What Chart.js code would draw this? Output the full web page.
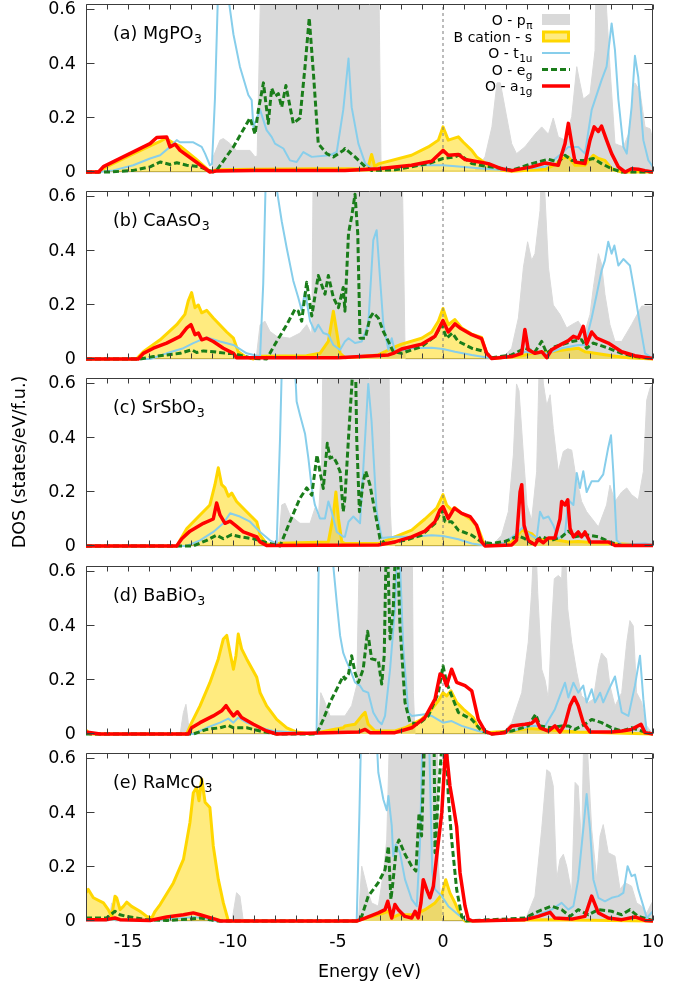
<!DOCTYPE html>
<html>
<head>
<meta charset="utf-8">
<script src="https://cdn.jsdelivr.net/npm/chart.js@4.4.0/dist/chart.umd.min.js"></script>
<style>
html,body{margin:0;padding:0;background:#fff;}
body{width:690px;height:989px;overflow:hidden;position:relative;}
canvas{position:absolute;left:0;}
</style>
</head>
<body>
<canvas id="c0" width="690" height="178" style="top:0px"></canvas>
<canvas id="c1" width="690" height="178" style="top:187px"></canvas>
<canvas id="c2" width="690" height="200" style="top:358px"></canvas>
<canvas id="c3" width="690" height="178" style="top:562px"></canvas>
<canvas id="c4" width="690" height="240" style="top:749px"></canvas>
<script>
// ---------------- DATA (energy in eV, DOS in states/eV/f.u.) ----------------
const energyLabelTicks = [-15, -10, -5, 0, 5, 10];
const energyMinorTicks = [-17,-16,-15,-14,-13,-12,-11,-10,-9,-8,-7,-6,-5,-4,-3,-2,-1,0,1,2,3,4,5,6,7,8,9,10];
const dosTicks = [0, 0.2, 0.4, 0.6];
const fermiLine = [[0,0],[0,0.622]];
const panelNames = ['(a) MgPO', '(b) CaAsO', '(c) SrSbO', '(d) BaBiO', '(e) RaMcO'];
const panelSubs = ['3','3','3','3','3'];

// (a) MgPO3
const aPpi = [[-17,0],[-11.0,0],[-10.94,0.056],[-10.62,0.118],[-10.46,0.124],[-10.14,0.105],[-9.83,0.08],[-9.19,0.08],[-8.95,0.056],[-8.85,0.06],[-8.6,1],[-3.1,1],[-2.95,0.02],[-2.5,0.005],[1.5,0.005],[1.7,0.019],[2.0,0.056],[2.33,0.167],[2.57,0.33],[2.73,0.33],[2.97,0.23],[3.27,0.105],[3.5,0.068],[3.9,0.093],[4.38,0.14],[4.7,0.167],[5.02,0.14],[5.25,0.2],[5.49,0.13],[5.81,0.118],[6.13,0.205],[6.37,0.39],[6.52,0.33],[6.68,0.27],[7.0,0.29],[7.24,0.45],[7.35,1],[7.65,1],[7.79,0.6],[7.95,0.39],[8.19,0.105],[8.35,0.1],[8.59,0.093],[8.83,0.14],[9.14,0.33],[9.38,0.3],[9.62,0.167],[9.86,0.16],[10,0.118]];
const aBs = [[-17,0],[-16.4,0],[-16.0,0.02],[-15,0.058],[-14,0.095],[-13.5,0.112],[-13.2,0.125],[-12.9,0.11],[-12.5,0.095],[-11.8,0.05],[-11.1,0.002],[-10.8,0.008],[-9,0.01],[-6,0.012],[-4.5,0.012],[-3.6,0.01],[-3.4,0.065],[-3.25,0.02],[-3.08,0.03],[-1.5,0.062],[-0.7,0.093],[-0.22,0.118],[0,0.167],[0.25,0.118],[0.73,0.13],[0.97,0.11],[1.37,0.08],[1.6,0.056],[2.16,0.025],[2.79,0.006],[3.27,0.003],[4.86,0.01],[5.4,0.03],[5.65,0.05],[5.97,0.056],[6.29,0.025],[6.76,0.025],[7.16,0.062],[7.4,0.05],[7.71,0.043],[8.03,0.012],[8.5,0],[10,0]];
const aT1u = [[-17,0],[-16.4,0],[-15.7,0.006],[-14.75,0.025],[-13.95,0.05],[-13.47,0.062],[-13.0,0.093],[-12.68,0.118],[-12.52,0.11],[-11.89,0.11],[-11.49,0.093],[-11.33,0.068],[-11.1,0.025],[-11.0,0.03],[-10.86,0.27],[-10.7,0.7],[-10.4,0.75],[-10.14,0.6],[-9.98,0.51],[-9.67,0.39],[-9.27,0.285],[-9.11,0.266],[-9.03,0.167],[-8.71,0.23],[-8.4,0.155],[-8.16,0.13],[-8.0,0.105],[-7.6,0.087],[-7.29,0.043],[-6.97,0.037],[-6.65,0.074],[-6.25,0.056],[-5.38,0.062],[-5.06,0.074],[-4.75,0.23],[-4.5,0.42],[-4.35,0.24],[-4.03,0.105],[-3.7,0.031],[-3.4,0.012],[-2.29,0.019],[-1.02,0.025],[0,0.025],[0.89,0.019],[2.0,0.012],[3.27,0.006],[4.86,0.019],[5.65,0.068],[5.97,0.093],[6.44,0.093],[6.76,0.068],[7.08,0.23],[7.55,0.34],[7.79,0.39],[8.03,0.55],[8.19,0.45],[8.35,0.27],[8.59,0.093],[8.75,0.068],[8.98,0.24],[9.14,0.43],[9.3,0.35],[9.54,0.118],[9.78,0.043],[10,0.019]];
const aEg = [[-17,0],[-15.86,0],[-14.75,0.006],[-13.95,0.019],[-13.47,0.037],[-13.0,0.028],[-12.68,0.034],[-12.2,0.025],[-11.57,0.019],[-10.94,0],[-10.78,0.006],[-9.98,0.093],[-9.19,0.2],[-8.95,0.14],[-8.79,0.23],[-8.55,0.33],[-8.32,0.18],[-8.16,0.31],[-8.0,0.28],[-7.84,0.29],[-7.68,0.24],[-7.48,0.32],[-7.13,0.18],[-6.81,0.2],[-6.57,0.39],[-6.37,0.57],[-6.17,0.365],[-5.94,0.105],[-5.54,0.068],[-5.22,0.056],[-4.75,0.08],[-4.67,0.087],[-4.19,0.056],[-3.7,0.019],[-3.4,0.006],[-2.29,0.008],[-0.7,0.031],[0,0.05],[0.57,0.056],[0.81,0.064],[1.37,0.031],[2.0,0.022],[2.95,0.012],[3.27,0.006],[4.22,0.031],[5.02,0.047],[5.49,0.037],[5.81,0.062],[6.13,0.043],[6.76,0.043],[7.16,0.05],[7.55,0.031],[8.03,0.012],[8.5,0],[10,0]];
const aA1g = [[-17,0],[-16.4,0],[-16.17,0.02],[-13.95,0.105],[-13.63,0.128],[-13.16,0.13],[-13.0,0.093],[-12.76,0.103],[-12.52,0.08],[-11.1,0],[-10.8,0.004],[-9,0.006],[-4.67,0.006],[-3.08,0.012],[-1.5,0.025],[-0.54,0.04],[0,0.08],[0.25,0.062],[0.73,0.065],[1.05,0.046],[1.52,0.04],[2.16,0.031],[2.79,0.012],[3.27,0.005],[4.22,0.019],[4.86,0.033],[5.49,0.025],[5.81,0.105],[5.97,0.18],[6.13,0.105],[6.29,0.037],[6.76,0.031],[7.0,0.118],[7.2,0.167],[7.4,0.15],[7.55,0.17],[7.79,0.118],[8.03,0.068],[8.35,0.019],[8.67,0],[8.98,0.012],[9.3,0.01],[9.62,0.005],[10,0]];

// (b) CaAsO3
const bPpi = [[-17,0],[-8.9,0],[-8.71,0.127],[-8.48,0.14],[-8.24,0.102],[-7.92,0.084],[-7.29,0.077],[-6.81,0.096],[-6.49,0.127],[-6.25,0.09],[-6.15,1],[-2.0,1],[-1.8,0],[2.79,0],[3.27,0.04],[3.59,0.152],[3.83,0.34],[4.03,0.434],[4.22,0.365],[4.38,0.39],[4.62,0.55],[4.73,0.8],[4.86,0.6],[5.02,0.34],[5.25,0.2],[5.57,0.165],[5.89,0.115],[6.13,0.127],[6.44,0.14],[6.76,0.102],[7.0,0.165],[7.16,0.265],[7.4,0.39],[7.55,0.352],[7.71,0.24],[7.95,0.127],[8.19,0.065],[8.51,0.065],[8.98,0.127],[9.46,0.196],[9.78,0.196],[10,0.196]];
const bBs = [[-17,0],[-14.6,0],[-14.27,0.027],[-13.47,0.071],[-12.68,0.127],[-12.29,0.165],[-12.13,0.215],[-11.97,0.246],[-11.81,0.19],[-11.65,0.2],[-11.49,0.171],[-11.25,0.18],[-10.94,0.152],[-10.3,0.1],[-9.98,0.077],[-9.75,0.027],[-9.43,0.009],[-9.03,0],[-8.8,0.01],[-6.5,0.012],[-5.86,0.021],[-5.46,0.065],[-5.22,0.177],[-5.06,0.1],[-4.9,0.021],[-4.67,0.005],[-3.08,0.015],[-2.76,0.027],[-2.44,0.04],[-1.97,0.055],[-1.02,0.077],[-0.54,0.1],[-0.22,0.14],[0,0.187],[0.25,0.127],[0.57,0.146],[0.89,0.115],[1.37,0.092],[1.84,0.08],[2.08,0.021],[2.32,0.002],[3.75,0.012],[4.22,0.021],[5.17,0.027],[5.81,0.034],[6.44,0.04],[6.76,0.027],[7.24,0.021],[8.03,0.012],[8.83,0.005],[10,0]];
const bT1u = [[-17,0],[-13.95,0],[-13.16,0.021],[-12.36,0.04],[-11.89,0.059],[-11.25,0.08],[-10.62,0.065],[-9.98,0.052],[-9.35,0.021],[-8.71,0.009],[-8.56,0.28],[-8.4,0.8],[-7.92,0.63],[-7.68,0.51],[-7.44,0.41],[-7.13,0.29],[-6.89,0.227],[-6.73,0.18],[-6.57,0.25],[-6.33,0.14],[-6.1,0.102],[-5.94,0.127],[-5.7,0.096],[-5.46,0.09],[-5.22,0.052],[-4.9,0.034],[-4.67,0.065],[-4.5,0.077],[-4.19,0.059],[-3.87,0.065],[-3.56,0.127],[-3.32,0.44],[-3.16,0.477],[-3.0,0.3],[-2.84,0.127],[-2.6,0.034],[-2.44,0.077],[-2.29,0.027],[-1.49,0.04],[-0.54,0.042],[0,0.037],[0.57,0.027],[1.37,0.015],[2.16,0.005],[3.27,0.012],[3.9,0.027],[4.38,0.021],[5.02,0.021],[5.65,0.04],[6.44,0.052],[6.76,0.052],[7.08,0.152],[7.32,0.24],[7.55,0.327],[7.71,0.365],[7.87,0.434],[8.03,0.39],[8.16,0.42],[8.35,0.346],[8.59,0.37],[8.9,0.346],[9.14,0.24],[9.38,0.127],[9.62,0.021],[10,0.002]];
const bEg = [[-17,0],[-14.43,0],[-13.79,0.009],[-13.16,0.015],[-12.52,0.021],[-11.97,0.034],[-11.73,0.024],[-11.41,0.03],[-10.94,0.027],[-10.3,0.021],[-9.98,0.02],[-9.03,0.002],[-8.4,0],[-7.92,0.065],[-7.44,0.127],[-7.05,0.184],[-6.89,0.177],[-6.73,0.14],[-6.49,0.284],[-6.25,0.159],[-5.94,0.309],[-5.78,0.275],[-5.62,0.24],[-5.46,0.309],[-5.22,0.227],[-4.98,0.19],[-4.75,0.265],[-4.67,0.177],[-4.5,0.465],[-4.35,0.527],[-4.19,0.61],[-4.06,0.465],[-3.95,0.077],[-3.7,0.077],[-3.48,0.152],[-3.32,0.171],[-3.08,0.152],[-2.84,0.102],[-2.6,0.065],[-2.37,0.027],[-1.97,0.021],[-1.02,0.046],[-0.38,0.084],[-0.06,0.127],[0.17,0.077],[0.44,0.096],[0.73,0.065],[1.37,0.04],[2.0,0.027],[2.32,0.005],[3.27,0.015],[3.9,0.04],[4.38,0.027],[4.7,0.065],[4.94,0.021],[5.33,0.046],[6.13,0.065],[6.6,0.071],[6.84,0.04],[7.16,0.059],[7.87,0.04],[8.51,0.021],[9.14,0.009],[10,0.002]];
const bA1g = [[-17,0],[-14.51,0],[-14.27,0.021],[-13.79,0.04],[-13.16,0.059],[-12.52,0.084],[-12.2,0.115],[-12.0,0.127],[-11.81,0.09],[-11.65,0.096],[-11.49,0.071],[-11.25,0.077],[-10.94,0.065],[-10.46,0.04],[-9.98,0.021],[-9.83,0.005],[-5,0.005],[-2.6,0.015],[-2.37,0.021],[-1.97,0.037],[-1.02,0.055],[-0.38,0.084],[0,0.142],[0.25,0.1],[0.57,0.13],[0.81,0.115],[1.37,0.09],[1.84,0.075],[2.08,0.021],[2.32,0.002],[3.27,0.009],[3.75,0.021],[3.9,0.109],[4.06,0.034],[4.38,0.021],[4.7,0.027],[4.94,0.005],[5.17,0.034],[5.65,0.055],[5.97,0.068],[6.21,0.084],[6.44,0.077],[6.68,0.121],[6.84,0.055],[7.08,0.1],[7.32,0.077],[7.87,0.059],[8.51,0.027],[9.14,0.012],[10,0.002]];

// (c) SrSbO3
const cPpi = [[-17,0],[-7.84,0],[-7.68,0.152],[-7.52,0.158],[-7.29,0.115],[-6.81,0.084],[-6.33,0.084],[-6.1,0.14],[-5.94,0.102],[-5.78,0.3],[-5.67,1],[-2.6,1],[-2.52,0.152],[-2.44,0.021],[-2.29,0],[2.32,0],[2.79,0.04],[3.11,0.127],[3.35,0.337],[3.5,0.6],[3.62,0.575],[3.83,0.337],[4.0,0.152],[4.22,0.096],[4.46,0.275],[4.62,0.8],[4.78,0.6],[4.94,0.52],[5.1,0.56],[5.25,0.435],[5.49,0.275],[5.73,0.35],[5.94,0.36],[6.13,0.355],[6.29,0.275],[6.6,0.165],[6.84,0.127],[7.4,0.071],[7.79,0.152],[7.95,0.225],[8.19,0.165],[8.51,0.2],[8.75,0.215],[8.98,0.19],[9.3,0.171],[9.54,0.275],[9.7,0.54],[9.86,0.585],[10,0.6]];
const cBs = [[-17,0],[-12.68,0],[-12.2,0.065],[-11.57,0.115],[-11.1,0.152],[-10.86,0.227],[-10.7,0.29],[-10.54,0.227],[-10.38,0.215],[-10.22,0.184],[-10.06,0.196],[-9.83,0.165],[-9.35,0.127],[-8.87,0.09],[-8.71,0.04],[-8.4,0.009],[-8.08,0.002],[-7.8,0.01],[-5.46,0.015],[-5.22,0.115],[-5.1,0.2],[-4.98,0.102],[-4.82,0.015],[-4.67,0.009],[-3.08,0.009],[-2.29,0.034],[-1.49,0.059],[-0.86,0.1],[-0.3,0.14],[0,0.19],[0.17,0.152],[0.41,0.133],[0.57,0.142],[0.89,0.121],[1.37,0.096],[1.68,0.065],[1.92,0.015],[2.16,0.002],[3.27,0.015],[3.75,0.059],[4.22,0.046],[4.54,0.021],[5.02,0.027],[5.49,0.021],[5.97,0.015],[6.44,0.017],[7.24,0.012],[8.03,0.009],[10,0.002]];
const cT1u = [[-17,0],[-12.2,0],[-11.57,0.021],[-10.94,0.052],[-10.46,0.084],[-10.14,0.121],[-9.67,0.109],[-9.19,0.09],[-8.71,0.052],[-8.24,0.021],[-7.92,0.009],[-7.76,0.4],[-7.63,0.8],[-7.13,0.8],[-6.97,0.535],[-6.81,0.485],[-6.57,0.416],[-6.41,0.324],[-6.25,0.215],[-6.1,0.152],[-5.86,0.102],[-5.62,0.102],[-5.46,0.165],[-5.3,0.127],[-5.06,0.052],[-4.75,0.034],[-4.67,0.034],[-4.5,0.09],[-4.27,0.109],[-3.95,0.084],[-3.71,0.4],[-3.56,0.6],[-3.4,0.46],[-3.16,0.127],[-2.92,0.03],[-2.29,0.034],[-1.49,0.034],[-0.54,0.04],[0,0.037],[0.73,0.025],[1.37,0.009],[2.0,0.002],[2.95,0.012],[3.59,0.052],[3.83,0.071],[4.06,0.046],[4.46,0.027],[4.62,0.127],[4.78,0.102],[5.02,0.109],[5.25,0.077],[5.49,0.027],[5.81,0.046],[5.97,0.17],[6.21,0.152],[6.37,0.27],[6.52,0.215],[6.68,0.277],[6.84,0.2],[7.08,0.24],[7.4,0.24],[7.63,0.265],[7.87,0.365],[8.0,0.41],[8.11,0.275],[8.27,0.021],[8.51,0.005],[9.62,0.009],[10,0.005]];
const cEg = [[-17,0],[-11.89,0],[-11.25,0.021],[-10.78,0.04],[-10.46,0.027],[-10.06,0.042],[-9.67,0.034],[-9.03,0.027],[-8.4,0.012],[-7.76,0],[-7.29,0.09],[-6.81,0.177],[-6.49,0.215],[-6.25,0.188],[-6.0,0.337],[-5.86,0.275],[-5.7,0.213],[-5.51,0.38],[-5.38,0.325],[-5.22,0.33],[-5.06,0.307],[-4.9,0.275],[-4.75,0.127],[-4.67,0.177],[-4.5,0.4],[-4.35,0.585],[-4.19,0.8],[-4.11,0.4],[-3.98,0.127],[-3.8,0.238],[-3.68,0.277],[-3.48,0.227],[-3.24,0.127],[-3.0,0.027],[-2.76,0.009],[-1.81,0.021],[-1.02,0.04],[-0.38,0.084],[-0.06,0.134],[0.1,0.09],[0.41,0.09],[0.73,0.059],[1.37,0.04],[1.84,0.015],[2.32,0.009],[2.95,0.017],[3.59,0.037],[3.9,0.027],[4.22,0.009],[4.7,0.034],[5.17,0.021],[5.65,0.034],[5.97,0.055],[6.29,0.034],[6.76,0.042],[7.4,0.034],[8.03,0.012],[8.51,0.002],[10,0.002]];
const cA1g = [[-17,0],[-12.68,0],[-12.44,0.027],[-12.05,0.055],[-11.41,0.084],[-10.94,0.1],[-10.78,0.159],[-10.62,0.115],[-10.38,0.084],[-10.14,0.092],[-9.9,0.077],[-9.51,0.052],[-8.87,0.034],[-8.71,0.015],[-8.4,0.002],[-3.08,0.004],[-2.29,0.015],[-1.49,0.034],[-0.86,0.055],[-0.38,0.09],[-0.14,0.134],[0,0.146],[0.25,0.102],[0.54,0.14],[0.89,0.121],[1.29,0.109],[1.6,0.077],[1.84,0.015],[2.0,0],[3.27,0.004],[3.5,0.021],[3.67,0.2],[3.75,0.227],[3.86,0.077],[4.06,0.021],[4.38,0.004],[4.54,0.025],[4.78,0.012],[5.02,0.03],[5.33,0.03],[5.57,0.1],[5.65,0.165],[5.81,0.152],[5.94,0.171],[6.05,0.065],[6.21,0.034],[6.44,0.052],[6.6,0.034],[6.76,0.052],[7.0,0.015],[7.87,0.015],[8.19,0.002],[10,0.002]];

// (d) BaBiO3
const dPpi = [[-17,0],[-12.52,0],[-12.36,0.08],[-12.24,0.11],[-12.13,0.042],[-12.05,0],[-5.94,0],[-5.82,0.153],[-5.62,0.117],[-5.38,0.067],[-4.67,0.067],[-4.35,0.105],[-4.11,0.179],[-3.9,1],[-1.49,1],[-1.41,0.153],[-1.33,0],[2.79,0],[3.27,0.042],[3.75,0.153],[4.06,0.34],[4.22,0.525],[4.38,0.8],[4.51,0.525],[4.7,0.24],[4.86,0.2],[5.02,0.129],[5.17,0.4],[5.3,0.575],[5.49,0.587],[5.65,0.575],[5.78,0.8],[5.94,0.463],[6.13,0.34],[6.37,0.228],[6.6,0.142],[6.92,0.117],[7.16,0.129],[7.4,0.253],[7.55,0.3],[7.79,0.278],[7.95,0.179],[8.19,0.104],[8.51,0.153],[8.75,0.34],[8.9,0.42],[9.06,0.4],[9.22,0.153],[9.46,0.117],[9.7,0.03],[10,0]];
const dBs = [[-17,0.015],[-16.81,0],[-12.21,0],[-11.97,0.042],[-11.57,0.104],[-11.1,0.19],[-10.7,0.278],[-10.46,0.352],[-10.3,0.365],[-10.11,0.29],[-9.98,0.24],[-9.86,0.29],[-9.75,0.37],[-9.59,0.315],[-9.35,0.278],[-8.87,0.21],[-8.71,0.153],[-8.4,0.104],[-7.92,0.054],[-7.44,0.023],[-6.97,0.007],[-6.33,0],[-5.86,0.007],[-5.22,0.017],[-4.75,0.023],[-4.67,0.03],[-4.19,0.036],[-3.87,0.067],[-3.71,0.08],[-3.56,0.036],[-3.24,0.011],[-2.29,0.011],[-1.81,0.023],[-1.02,0.054],[-0.54,0.092],[-0.22,0.123],[0,0.153],[0.17,0.141],[0.38,0.16],[0.65,0.117],[0.97,0.092],[1.44,0.061],[1.68,0.023],[2.0,0.005],[3.27,0.011],[4.06,0.02],[4.86,0.017],[5.65,0.011],[6.44,0.007],[10,0]];
const dT1u = [[-17,0],[-11.89,0],[-11.25,0.023],[-10.62,0.042],[-10.22,0.057],[-9.98,0.042],[-9.75,0.061],[-9.35,0.042],[-8.71,0.023],[-8.08,0.011],[-6.02,0],[-5.89,0.8],[-5.22,0.62],[-5.06,0.487],[-4.9,0.364],[-4.75,0.3],[-4.6,0.27],[-4.43,0.24],[-4.19,0.191],[-3.95,0.179],[-3.8,0.16],[-3.56,0.153],[-3.32,0.08],[-3.08,0.048],[-2.92,0.036],[-2.76,0.067],[-2.52,0.24],[-2.29,0.463],[-2.13,0.8],[-1.89,0.315],[-1.65,0.08],[-1.49,0.067],[-0.86,0.073],[-0.54,0.067],[0,0.042],[0.41,0.048],[0.89,0.03],[1.68,0.011],[2.32,0],[3.27,0.011],[4.22,0.03],[4.86,0.03],[5.33,0.092],[5.57,0.142],[5.81,0.19],[5.97,0.135],[6.21,0.19],[6.44,0.153],[6.68,0.179],[6.84,0.117],[7.08,0.166],[7.24,0.117],[7.48,0.153],[7.63,0.117],[7.87,0.16],[8.19,0.213],[8.51,0.08],[8.83,0.067],[9.14,0.179],[9.38,0.29],[9.54,0.129],[9.7,0.005],[10,0]];
const dEg = [[-17,0],[-11.89,0],[-11.25,0.017],[-10.62,0.023],[-10.22,0.032],[-9.98,0.023],[-9.35,0.023],[-8.71,0.011],[-7.92,0],[-6.02,0],[-5.7,0.054],[-5.38,0.117],[-5.06,0.166],[-4.75,0.215],[-4.67,0.203],[-4.5,0.222],[-4.35,0.29],[-4.19,0.228],[-4.03,0.191],[-3.8,0.24],[-3.59,0.38],[-3.4,0.278],[-3.08,0.272],[-2.92,0.185],[-2.8,0.29],[-2.68,0.8],[-2.52,0.352],[-2.37,0.463],[-2.21,0.8],[-2.05,0.401],[-1.81,0.117],[-1.57,0.042],[-1.18,0.036],[-0.7,0.067],[-0.22,0.153],[0,0.253],[0.17,0.191],[0.41,0.142],[0.73,0.08],[1.37,0.054],[1.84,0.011],[2.32,0],[3.27,0.011],[4.06,0.03],[4.41,0.073],[4.62,0.03],[5.17,0.023],[5.65,0.03],[5.97,0.03],[6.29,0.017],[6.76,0.036],[7.08,0.054],[7.55,0.042],[8.03,0.023],[8.51,0.011],[8.98,0.023],[9.46,0.011],[10,0]];
const dA1g = [[-17,0.007],[-16.33,0],[-12.13,0],[-11.97,0.023],[-11.57,0.042],[-10.94,0.067],[-10.54,0.086],[-10.33,0.105],[-10.17,0.086],[-9.98,0.067],[-9.79,0.082],[-9.59,0.061],[-9.03,0.036],[-8.4,0.011],[-7.92,0],[-4.03,0.007],[-3.71,0.017],[-3.48,0.005],[-2.29,0.005],[-1.49,0.023],[-0.86,0.061],[-0.38,0.129],[-0.14,0.222],[0,0.216],[0.17,0.179],[0.41,0.24],[0.65,0.191],[1.05,0.179],[1.37,0.16],[1.68,0.054],[2.0,0.011],[2.32,0],[2.95,0.005],[3.27,0.03],[3.9,0.036],[4.22,0.04],[4.43,0.055],[4.62,0.023],[5.02,0.011],[5.33,0.03],[5.57,0.007],[5.81,0.036],[6.05,0.105],[6.25,0.136],[6.44,0.105],[6.68,0.042],[7.0,0.007],[8.03,0.007],[8.51,0.011],[8.98,0.017],[9.43,0.036],[9.62,0.005],[10,0]];

// (e) RaMcO3
const ePpi = [[-17,0],[-15.9,0],[-15.78,0.067],[-15.62,0],[-10.05,0],[-9.83,0.105],[-9.67,0.092],[-9.51,0],[-4.03,0],[-3.87,0.203],[-3.71,0.153],[-3.56,0.105],[-3.4,0.067],[-3.08,0.055],[-2.84,0.179],[-2.68,0.3],[-2.44,1],[-0.3,1],[-0.22,0.215],[-0.05,0],[3.9,0],[4.38,0.092],[4.7,0.34],[4.94,0.56],[5.1,0.55],[5.25,0.5],[5.41,0.154],[5.57,0.228],[5.73,0.247],[5.89,0.203],[6.13,0.104],[6.29,0.513],[6.44,0.5],[6.6,0.277],[6.73,0.8],[6.89,0.62],[7.08,0.34],[7.32,0.154],[7.48,0.315],[7.63,0.357],[7.87,0.253],[8.19,0.24],[8.43,0.117],[8.67,0.142],[8.98,0.129],[9.22,0.067],[9.46,0.055],[9.7,0.03],[9.94,0.067],[10,0.073]];
const eBs = [[-17,0.105],[-16.89,0.117],[-16.65,0.086],[-16.17,0.067],[-15.94,0.042],[-15.78,0.017],[-15.62,0.092],[-15.54,0.086],[-15.38,0.042],[-15.22,0.054],[-15.06,0.07],[-14.83,0.054],[-14.43,0.036],[-14.11,0.017],[-13.87,0.011],[-13.71,0.036],[-13.47,0.061],[-12.84,0.141],[-12.36,0.228],[-12.05,0.365],[-11.89,0.475],[-11.73,0.495],[-11.62,0.445],[-11.49,0.526],[-11.33,0.44],[-11.1,0.42],[-10.94,0.278],[-10.7,0.154],[-10.46,0.067],[-10.22,0],[-4.11,0],[-3.71,0.011],[-3.08,0.023],[-2.6,0.036],[-2.44,0.011],[-2.13,0.023],[-1.33,0.023],[-0.86,0.042],[-0.38,0.067],[-0.06,0.098],[0.13,0.153],[0.33,0.104],[0.57,0.067],[0.81,0.023],[1.05,0],[4.86,0.005],[10,0]];
const eT1u = [[-17,0.005],[-13.16,0.005],[-11.89,0.015],[-11.1,0.007],[-10.8,0],[-4.11,0],[-3.98,0.4],[-3.87,0.8],[-3.24,0.8],[-3.08,0.55],[-2.84,0.45],[-2.68,0.41],[-2.6,0.463],[-2.44,0.352],[-2.37,0.24],[-2.25,0.283],[-2.05,0.253],[-1.81,0.154],[-1.49,0.08],[-1.25,0.055],[-1.1,0.278],[-0.94,0.8],[-0.7,0.8],[-0.51,0.179],[-0.38,0.117],[-0.06,0.092],[0.25,0.055],[0.73,0.023],[1.05,0.005],[1.68,0],[3.9,0.005],[4.54,0.023],[5.17,0.042],[5.65,0.067],[5.97,0.042],[6.21,0.055],[6.44,0.153],[6.68,0.34],[6.84,0.47],[7.0,0.34],[7.16,0.154],[7.4,0.086],[7.71,0.073],[8.03,0.086],[8.35,0.092],[8.59,0.104],[8.79,0.203],[8.98,0.166],[9.14,0.172],[9.3,0.117],[9.54,0.055],[9.7,0.011],[10,0.036]];
const eEg = [[-17,0.011],[-16.02,0.011],[-15.62,0.036],[-15.38,0.023],[-15.06,0.017],[-14.11,0.005],[-13.16,0.002],[-12.05,0.007],[-11.57,0.011],[-11.1,0.005],[-10.8,0],[-4.11,0],[-3.87,0.017],[-3.56,0.092],[-3.08,0.142],[-2.76,0.19],[-2.6,0.277],[-2.48,0.08],[-2.37,0.154],[-2.21,0.277],[-2.1,0.3],[-1.81,0.247],[-1.49,0.203],[-1.29,0.185],[-1.14,0.4],[-1.02,0.315],[-0.83,0.8],[-0.44,0.8],[-0.38,0.253],[-0.2,0.5],[0.1,0.8],[0.25,0.463],[0.41,0.303],[0.65,0.117],[0.89,0.017],[1.1,0],[3.9,0.011],[4.54,0.036],[5.17,0.055],[5.65,0.042],[6.05,0.017],[6.44,0.042],[6.92,0.023],[7.4,0.042],[8.03,0.036],[8.51,0.023],[8.9,0.042],[9.3,0.017],[10,0.002]];
const eA1g = [[-17,0.005],[-16.02,0.005],[-15.62,0.011],[-15.38,0.005],[-13.95,0.002],[-13.16,0.015],[-12.36,0.023],[-11.89,0.03],[-11.57,0.023],[-10.78,0.005],[-10.6,0],[-4.11,0],[-3.71,0.011],[-3.08,0.03],[-2.76,0.042],[-2.63,0.073],[-2.44,0.011],[-2.29,0.061],[-2.13,0.042],[-1.81,0.017],[-1.49,0.011],[-1.33,0.036],[-1.18,0.011],[-1.05,0.067],[-0.94,0.153],[-0.78,0.117],[-0.62,0.086],[-0.46,0.129],[-0.3,0.24],[-0.06,0.4],[0.1,0.61],[0.17,0.62],[0.33,0.5],[0.49,0.427],[0.65,0.35],[0.81,0.179],[1.05,0.055],[1.2,0.007],[1.4,0],[3.9,0.005],[4.54,0.017],[5.1,0.032],[5.33,0.011],[6.13,0.007],[6.76,0.017],[7.08,0.092],[7.4,0.03],[7.87,0.011],[8.51,0.005],[9.14,0.015],[9.62,0.002],[10,0]];

// ---------------- STYLE / RENDERING ----------------
const FONT = '"DejaVu Sans", "Liberation Sans", sans-serif';
Chart.defaults.font.family = FONT;
Chart.defaults.color = '#000';

const COL = {
  pi: '#d9d9d9', s: '#ffd700', sFill: 'rgba(255,215,0,0.5)',
  t1u: '#87ceeb', eg: '#1a7d1a', a1g: '#ff0000', frame: '#3c3c3c', fermi: '#7a7a7a'
};

function pts(a){ return a.map(p => ({x: p[0], y: p[1]})); }

function makeDatasets(pp, bs, t1u, eg, a1g){
  const base = {pointRadius:0, pointHoverRadius:0, tension:0, fill:false, borderJoinStyle:'round', borderCapStyle:'butt',
                clip:{left:0, right:0, top:0, bottom:3}};
  return [
    {label:'O - a1g', data:pts(a1g), borderColor:COL.a1g, borderWidth:3.5, order:1},
    {label:'O - eg', data:pts(eg), borderColor:COL.eg, borderWidth:3, borderDash:[6,3], order:2},
    {label:'O - t1u', data:pts(t1u), borderColor:COL.t1u, borderWidth:2, order:3},
    {label:'EF', data:pts(fermiLine), borderColor:COL.fermi, borderWidth:1, borderDash:[3,3], order:4},
    {label:'B cation - s', data:pts(bs), borderColor:COL.s, borderWidth:3, fill:'origin', backgroundColor:COL.sFill, order:5},
    {label:'O - p_pi', data:pts(pp), borderColor:COL.pi, borderWidth:1, fill:'origin', backgroundColor:COL.pi, order:6}
  ].map(d => Object.assign({}, base, d));
}

function drawSubText(ctx, x, yBase, main, sub, mainSize, subSize, subDrop, align){
  ctx.font = mainSize + 'px ' + FONT;
  const wMain = ctx.measureText(main).width;
  ctx.font = subSize + 'px ' + FONT;
  const wSub = sub ? ctx.measureText(sub).width : 0;
  let x0 = align === 'right' ? x - wMain - wSub : x;
  ctx.textAlign = 'left';
  ctx.textBaseline = 'alphabetic';
  ctx.fillStyle = '#000';
  ctx.font = mainSize + 'px ' + FONT;
  ctx.fillText(main, x0, yBase);
  if (sub){
    ctx.font = subSize + 'px ' + FONT;
    ctx.fillText(sub, x0 + wMain + 0.5, yBase + subDrop);
  }
}

const framePlugin = {
  id: 'frame',
  beforeDatasetsDraw(chart){
    const {ctx, chartArea:{left,right,bottom}} = chart;
    ctx.save();
    ctx.strokeStyle = COL.frame; ctx.lineWidth = 1;
    ctx.beginPath();
    ctx.moveTo(left, Math.round(bottom) - 0.5); ctx.lineTo(right, Math.round(bottom) - 0.5);
    ctx.stroke();
    ctx.restore();
  },
  afterDatasetsDraw(chart){
    const {ctx, chartArea:{left,right,top,bottom}, scales:{x, y}} = chart;
    ctx.save();
    ctx.strokeStyle = COL.frame; ctx.lineWidth = 1;
    ctx.beginPath();
    const L = Math.round(left) + 0.5, R = Math.round(right) - 0.5, T = Math.round(top) + 0.5, B = Math.round(bottom) - 0.5;
    ctx.moveTo(L, B); ctx.lineTo(L, T); ctx.lineTo(R, T); ctx.lineTo(R, B);
    energyMinorTicks.forEach(v => {
      const px = Math.round(x.getPixelForValue(v)) + 0.5;
      ctx.moveTo(px, B); ctx.lineTo(px, B - 5);
      ctx.moveTo(px, T); ctx.lineTo(px, T + 5);
    });
    dosTicks.forEach(v => {
      const py = Math.round(y.getPixelForValue(v)) - 0.5;
      ctx.moveTo(L, py); ctx.lineTo(L + 8, py);
      ctx.moveTo(R, py); ctx.lineTo(R - 8, py);
    });
    ctx.stroke();
    ctx.restore();
  },
  afterDraw(chart){
    const o = chart.options.plugins.frame || {};
    const {ctx, chartArea:{top}} = chart;
    ctx.save();
    if (o.name){
      drawSubText(ctx, 113, top + 34.5, o.name, o.sub, 17.5, 12.5, 4, 'left');
    }
    if (o.legend){
      const rows = [
        {main:'O - p', sub:'\u03c0', kind:'pi'},
        {main:'B cation - s', sub:'', kind:'s'},
        {main:'O - t', sub:'1u', kind:'t1u'},
        {main:'O - e', sub:'g', kind:'eg'},
        {main:'O - a', sub:'1g', kind:'a1g'}
      ];
      const yc = [19.5, 36.5, 53, 69.5, 86];
      rows.forEach((r, i) => {
        const cy = yc[i];
        drawSubText(ctx, 532, cy + 5, r.main, r.sub, 14, 10.5, 4, 'right');
        ctx.setLineDash([]);
        if (r.kind === 'pi'){ ctx.fillStyle = COL.pi; ctx.fillRect(542, cy - 5.5, 28, 11); }
        else if (r.kind === 's'){
          ctx.fillStyle = COL.sFill; ctx.fillRect(543.5, cy - 4.5, 25, 9);
          ctx.strokeStyle = COL.s; ctx.lineWidth = 3; ctx.strokeRect(543.5, cy - 4.5, 25, 9);
        } else {
          ctx.beginPath();
          ctx.strokeStyle = COL[r.kind];
          ctx.lineWidth = r.kind === 't1u' ? 2 : (r.kind === 'eg' ? 3 : 3.5);
          if (r.kind === 'eg') ctx.setLineDash([6,3]);
          ctx.moveTo(542, cy); ctx.lineTo(570, cy); ctx.stroke();
          ctx.setLineDash([]);
        }
      });
    }
    if (o.ytitle){
      ctx.translate(20.5, 462 - 358);
      ctx.rotate(-Math.PI/2);
      ctx.font = '17.5px ' + FONT;
      ctx.fillStyle = '#000';
      ctx.textAlign = 'center'; ctx.textBaseline = 'middle';
      ctx.fillText('DOS (states/eV/f.u.)', 0, 0);
    }
    ctx.restore();
  }
};

const panelData = [
  [aPpi, aBs, aT1u, aEg, aA1g],
  [bPpi, bBs, bT1u, bEg, bA1g],
  [cPpi, cBs, cT1u, cEg, cA1g],
  [dPpi, dBs, dT1u, dEg, dA1g],
  [ePpi, eBs, eT1u, eEg, eA1g]
];
const pads = [
  {top:4, bottom:6}, {top:4, bottom:6}, {top:20, bottom:12}, {top:4, bottom:6}, {top:4, bottom:0}
];

panelData.forEach((d, i) => {
  const last = i === 4;
  const xScale = {
    type:'linear', min:-17, max:10, display:last, position:'bottom',
    grid:{display:false, drawTicks:false}, border:{display:false},
    afterBuildTicks: s => { s.ticks = energyLabelTicks.map(v => ({value:v})); },
    ticks:{font:{size:17.5}, color:'#000', padding:10.5, maxRotation:0, minRotation:0, autoSkip:false,
           callback: v => String(v)},
    title:{display:last, text:'Energy (eV)', font:{size:17.5}, color:'#000', padding:{top:0, bottom:6.5}}
  };
  if (last) xScale.afterFit = s => { s.height = 68; s.paddingLeft = 0; s.paddingRight = 0; };
  new Chart(document.getElementById('c' + i), {
    type:'line',
    data:{datasets: makeDatasets(d[0], d[1], d[2], d[3], d[4])},
    options:{
      responsive:false, animation:false, devicePixelRatio:1,
      layout:{padding:{left:0, right:37, top:pads[i].top, bottom:pads[i].bottom}},
      scales:{
        x: xScale,
        y:{
          type:'linear', min:0, max:0.622, position:'left',
          grid:{display:false, drawTicks:false}, border:{display:false},
          afterBuildTicks: s => { s.ticks = dosTicks.map(v => ({value:v})); },
          afterFit: s => { s.width = 86; s.paddingTop = 0; s.paddingBottom = 0; },
          ticks:{font:{size:17.5}, color:'#000', padding:10, callback: v => (v === 0 ? '0' : v.toFixed(1))}
        }
      },
      plugins:{
        legend:{display:false}, tooltip:{enabled:false},
        frame:{name: panelNames[i], sub: panelSubs[i], legend: i === 0, ytitle: i === 2}
      }
    },
    plugins:[framePlugin]
  });
});
</script>
</body>
</html>
